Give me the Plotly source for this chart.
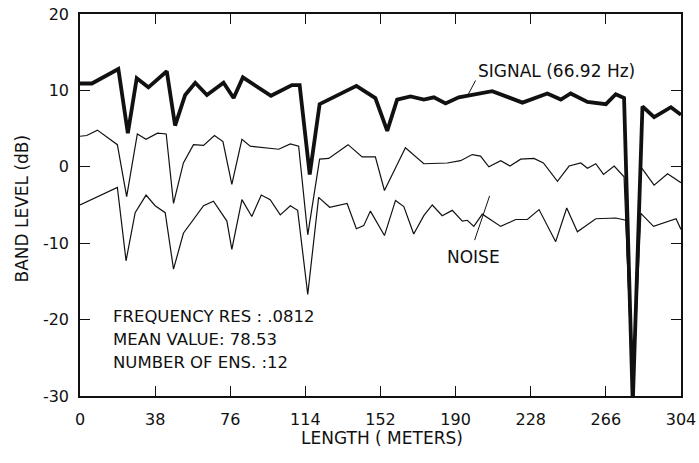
import plotly.graph_objects as go

# Signal (66.92 Hz) band level
sig_x = [0, 6, 19.4, 24.2, 28.7, 34.6, 43.9, 48.1, 53.2, 58.3, 64.2, 72.6, 77.7, 82.4, 96.6, 107.2, 111.1, 116.2,
         121.2, 125.8, 132.6, 139.8, 149.4, 155.4, 160.4, 167.2, 173.9, 179, 184.9, 191.6, 208.5, 223.8, 236.4,
         243.2, 248.2, 256.7, 266, 271, 275.2, 279.6, 284.5, 290.4, 298.9, 304]
sig_y = [10.9, 10.9, 12.8, 4.4, 11.6, 10.4, 12.5, 5.4, 9.4, 11.0, 9.4, 11.0, 9.0, 11.7, 9.3, 10.7, 10.7, -1.0,
         8.2, 8.8, 9.7, 10.6, 9.0, 4.7, 8.8, 9.2, 8.8, 9.1, 8.3, 9.1, 9.9, 8.4, 9.6,
         8.8, 9.6, 8.5, 8.2, 9.5, 9.0, -31, 7.9, 6.5, 7.8, 6.8]

# Noise (upper trace)
n1_x = [0, 3.4, 8.8, 18.9, 23.6, 29, 33.4, 39.2, 43.6, 47.3, 52.3, 57.4, 62.5, 68, 72.3, 76.8, 81.9, 86.1,
        100.5, 106.4, 110.6, 115.2, 121.2, 125.8, 135.6, 142.7, 149.4, 154, 164.6, 173.9, 185.8, 192.5, 198.4,
        202.6, 206.8, 212.8, 217.5, 222.9, 229.6, 234.4, 241.5, 247.4, 253.3, 256.7, 260.9, 264.8, 270.2, 275.2,
        279.6, 283.7, 290.4, 297.2, 304]
n1_y = [4.0, 4.1, 4.8, 2.9, -3.9, 4.3, 3.6, 4.4, 4.3, -4.8, 0.5, 2.9, 2.8, 4.1, 3.3, -2.3, 3.6, 2.7,
        2.3, 3.0, 2.7, -8.9, 1.0, 1.1, 2.9, 1.3, 1.3, -3.1, 2.5, 0.4, 0.5, 0.8, 1.6,
        1.4, 0.0, 0.8, 0.1, 1.0, 1.1, 0.5, -1.9, 0.1, 0.5, -0.2, 0.4, -1.0, 0.1, -1.3,
        -30, 0.0, -2.4, -0.9, -2.1]

# Noise (lower trace)
n2_x = [0, 18.9, 23.3, 27.9, 33.4, 38, 43.1, 47.3, 52.3, 62.5, 67.5, 74.3, 76.8, 81.9, 86.9, 91.7, 96.2,
        101.3, 106.4, 110.1, 115.2, 120.7, 126.3, 135.1, 139.8, 143.5, 146.9, 154, 159.6, 163.8, 168.8, 173.9,
        178.2, 183.2, 188.3, 193.4, 195.9, 199.2, 203.5, 212.8, 220.4, 226.3, 232.2, 240.6, 246.2, 251.6,
        260.9, 271, 276.1, 279.6, 283.7, 290.1, 301.5, 304]
n2_y = [-5.0, -2.7, -12.3, -6.0, -3.7, -5.1, -6.0, -13.4, -8.7, -5.1, -4.5, -7.1, -10.8, -4.3, -6.5, -3.7, -4.3,
        -6.3, -5.1, -5.7, -16.7, -4.0, -5.3, -4.8, -8.1, -7.7, -5.8, -9.0, -4.4, -5.2, -8.8, -6.4,
        -5.0, -6.4, -5.7, -7.1, -7.0, -7.8, -6.2, -7.8, -6.9, -6.9, -5.6, -9.8, -5.4, -8.5,
        -6.8, -6.7, -7.0, -30, -6.1, -7.8, -6.8, -8.2]

x_ticks = [0, 38, 76, 114, 152, 190, 228, 266, 304]
y_ticks = [-30, -20, -10, 0, 10, 20]
info_lines = ["FREQUENCY RES : .0812", "MEAN VALUE: 78.53", "NUMBER OF ENS. :12"]

FONT = "DejaVu Sans"
INK = "#111111"

fig = go.Figure()
fig.add_trace(go.Scatter(x=n2_x, y=n2_y, mode="lines", line=dict(color=INK, width=1.2), showlegend=False))
fig.add_trace(go.Scatter(x=n1_x, y=n1_y, mode="lines", line=dict(color=INK, width=1.2), showlegend=False))
fig.add_trace(go.Scatter(x=sig_x, y=sig_y, mode="lines", line=dict(color=INK, width=3.8), showlegend=False))

fig.add_annotation(x=240.8, y=12.5, text="SIGNAL (66.92 Hz)", showarrow=False,
                   font=dict(family=FONT, size=17, color=INK))
fig.add_shape(type="line", x0=200.1, y0=11.3, x1=196.0, y1=9.3, line=dict(color=INK, width=1))
fig.add_annotation(x=199.1, y=-11.8, text="NOISE", showarrow=False,
                   font=dict(family=FONT, size=17, color=INK))
fig.add_shape(type="line", x0=199.6, y0=-9.6, x1=207.2, y1=-3.8, line=dict(color=INK, width=1))

for i, line in enumerate(info_lines):
    fig.add_annotation(x=15.5, y=-19.6 - 3.0 * i, text=line, showarrow=False, xanchor="left",
                       font=dict(family=FONT, size=16.5, color=INK))

# axis titles
fig.add_annotation(xref="paper", yref="paper", x=0.503, y=-0.11, yanchor="middle", text="LENGTH ( METERS)",
                   showarrow=False, font=dict(family=FONT, size=17, color=INK))
fig.add_annotation(xref="paper", yref="paper", x=-0.097, y=0.49, xanchor="center", yanchor="middle",
                   text="BAND LEVEL (dB)", textangle=-90, showarrow=False,
                   font=dict(family=FONT, size=17, color=INK))

fig.update_layout(
    width=699, height=463,
    margin=dict(l=80, r=18, t=14, b=67),
    paper_bgcolor="white", plot_bgcolor="white",
    font=dict(family=FONT, size=16, color=INK),
)
fig.update_xaxes(range=[0, 304], tickvals=x_ticks, ticktext=[str(v) for v in x_ticks],
                 ticks="inside", ticklen=10, tickwidth=1.3, tickcolor=INK,
                 showline=True, linecolor=INK, linewidth=1.5, mirror="ticks",
                 showgrid=False, zeroline=False, automargin=False, ticklabelstandoff=8,
                 tickfont=dict(size=16))
fig.update_yaxes(range=[-30, 20], tickvals=y_ticks, ticktext=[str(v) for v in y_ticks],
                 ticks="inside", ticklen=10, tickwidth=1.3, tickcolor=INK,
                 showline=True, linecolor=INK, linewidth=1.5, mirror="ticks",
                 showgrid=False, zeroline=False, automargin=False, ticklabelstandoff=6,
                 tickfont=dict(size=16))

fig.write_html("out.html")
